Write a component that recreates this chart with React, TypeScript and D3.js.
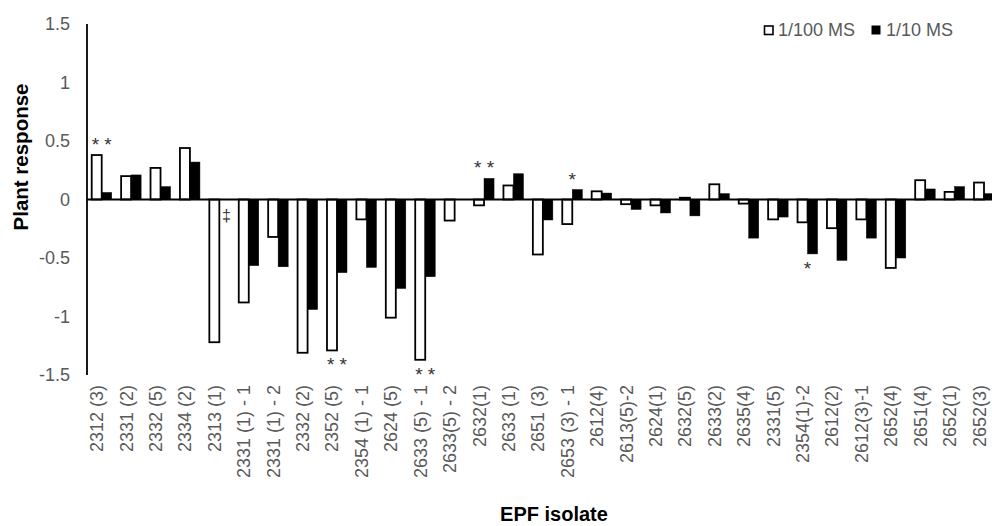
import React from "react";
import * as d3 from "d3";

const categories = [
  "2312 (3)", "2331 (2)", "2332 (5)", "2334 (2)", "2313 (1)", "2331 (1) - 1", "2331 (1) - 2",
  "2332 (2)", "2352 (5)", "2354 (1) - 1", "2624 (5)", "2633 (5) - 1", "2633(5) - 2", "2632(1)",
  "2633 (1)", "2651 (3)", "2653 (3) - 1", "2612(4)", "2613(5)-2", "2624(1)", "2632(5)", "2633(2)",
  "2635(4)", "2331(5)", "2354(1)-2", "2612(2)", "2612(3)-1", "2652(4)", "2651(4)", "2652(1)", "2652(3)",
];

const ms100 = [
  0.38, 0.2, 0.27, 0.44, -1.22, -0.88, -0.32, -1.31, -1.29, -0.17, -1.01, -1.37, -0.18, -0.05,
  0.12, -0.47, -0.21, 0.07, -0.04, -0.05, 0.015, 0.13, -0.035, -0.17, -0.195, -0.245, -0.17,
  -0.585, 0.165, 0.065, 0.145,
];

const ms10: (number | null)[] = [
  0.06, 0.21, 0.11, 0.32, null, -0.565, -0.575, -0.94, -0.625, -0.58, -0.76, -0.66, null, 0.18,
  0.22, -0.175, 0.085, 0.055, -0.085, -0.115, -0.14, 0.05, -0.33, -0.15, -0.465, -0.52, -0.33,
  -0.5, 0.09, 0.11, 0.05,
];

const seriesNames = ["1/100 MS", "1/10 MS"];
const yTicks = [-1.5, -1, -0.5, 0, 0.5, 1, 1.5];

// significance marks: category, text, series the mark belongs to, side, horizontal anchor
const marks = [
  { cat: "2312 (3)", text: "* *", series: 0, side: "above", anchor: "group" },
  { cat: "2313 (1)", text: "\u2021", series: 1, side: "below", anchor: "bar" },
  { cat: "2352 (5)", text: "* *", series: 0, side: "below", anchor: "group" },
  { cat: "2633 (5) - 1", text: "* *", series: 0, side: "below", anchor: "group" },
  { cat: "2632(1)", text: "* *", series: 1, side: "above", anchor: "group" },
  { cat: "2653 (3) - 1", text: "*", series: 1, side: "above", anchor: "group" },
  { cat: "2354(1)-2", text: "*", series: 1, side: "below", anchor: "group" },
];

const W = 992;
const H = 526;
const left = 87;
const step = 29.41;
const top = 24;
const bottom = 375;
const FONT = "'Liberation Sans', Arial, sans-serif";

export default function App() {
  const x = d3
    .scaleBand<string>()
    .domain(categories)
    .range([left, left + step * categories.length])
    .paddingInner(0.32)
    .paddingOuter(0.16);
  const x1 = d3.scaleBand<number>().domain([0, 1]).range([0, x.bandwidth()]);
  const y = d3.scaleLinear().domain([-1.5, 1.5]).range([bottom, top]);
  const y0 = y(0);

  const seriesVals = [ms100, ms10];

  return (
    <svg
      width={W}
      height={H}
      style={{ position: "absolute", left: 0, top: 0, display: "block", background: "#fff" }}
      fontFamily={FONT}
    >
      {/* bars */}
      {categories.map((c, i) => (
        <g key={c}>
          {seriesVals.map((vals, s) => {
            const v = vals[i];
            if (v === null || v === undefined) return null;
            const bx = (x(c) as number) + (x1(s) as number);
            const by = Math.min(y(v), y0);
            const bh = Math.abs(y(v) - y0);
            return (
              <rect
                key={s}
                x={bx}
                y={by}
                width={x1.bandwidth()}
                height={bh}
                fill={s === 0 ? "#fff" : "#000"}
                stroke="#000"
                strokeWidth={s === 0 ? 1.8 : 0.5}
              />
            );
          })}
        </g>
      ))}

      {/* zero line */}
      <line x1={left} x2={W} y1={y0} y2={y0} stroke="#000" strokeWidth={1.8} />
      {/* y axis */}
      <line x1={left} x2={left} y1={y(1.5)} y2={y(-1.5)} stroke="#000" strokeWidth={1.8} />

      {/* y ticks */}
      {yTicks.map((t) => (
        <text
          key={t}
          x={70}
          y={y(t)}
          dy="0.36em"
          textAnchor="end"
          fontSize={18}
          fill="#595959"
        >
          {String(t)}
        </text>
      ))}

      {/* x labels */}
      {categories.map((c) => {
        const cx = (x(c) as number) + x.bandwidth() / 2;
        return (
          <text
            key={c}
            transform={`translate(${cx + 1.5},385) rotate(-90)`}
            textAnchor="end"
            fontSize={18}
            fill="#595959"
          >
            {c}
          </text>
        );
      })}

      {/* significance marks */}
      {marks.map((m, k) => {
        const i = categories.indexOf(m.cat);
        const v = seriesVals[m.series][i] ?? 0;
        const cx =
          m.anchor === "bar"
            ? (x(m.cat) as number) + (x1(m.series) as number) + x1.bandwidth() / 2 + 2
            : (x(m.cat) as number) + x.bandwidth() / 2;
        const yy = m.side === "above" ? y(v) - 4 : y(v) + 21;
        return (
          <text
            key={k}
            x={cx}
            y={yy}
            textAnchor="middle"
            fontSize={m.text === "\u2021" ? 16 : 19}
            fill="#333"
          >
            {m.text}
          </text>
        );
      })}

      {/* axis titles */}
      <text
        transform={`translate(28,157) rotate(-90)`}
        textAnchor="middle"
        fontSize={20.5}
        fontWeight="bold"
        fill="#000"
      >
        Plant response
      </text>
      <text x={554} y={521} textAnchor="middle" fontSize={20} fontWeight="bold" fill="#000">
        EPF isolate
      </text>

      {/* legend */}
      <g>
        <rect x={764.5} y={26} width={8.5} height={8.5} fill="#fff" stroke="#000" strokeWidth={1.6} />
        <text x={778} y={36} fontSize={18} fill="#595959">
          {seriesNames[0]}
        </text>
        <rect x={871.5} y={25.5} width={9} height={9} fill="#000" />
        <text x={886} y={36} fontSize={18} fill="#595959">
          {seriesNames[1]}
        </text>
      </g>
    </svg>
  );
}
